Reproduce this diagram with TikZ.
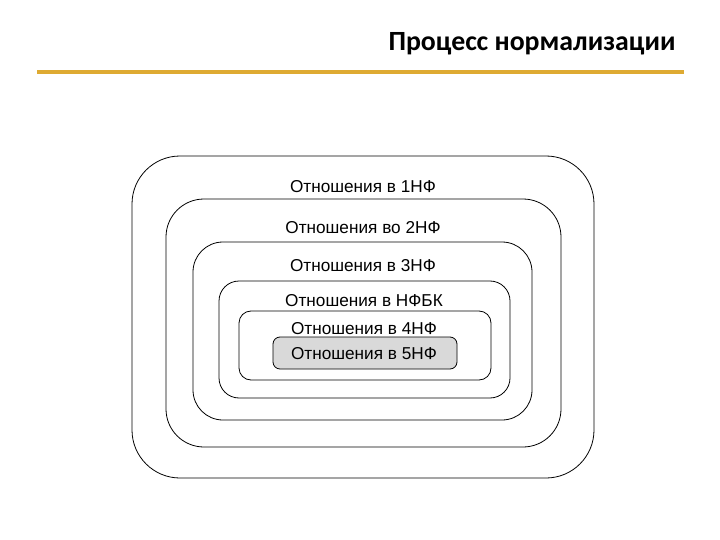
\documentclass[tikz,border=0pt]{standalone}
\usepackage{fontspec}
\setmainfont{Liberation Sans}
\newfontfamily\titlefont{Carlito}
\definecolor{gold}{RGB}{222,170,50}
\definecolor{innerfill}{RGB}{217,217,217}
\begin{document}
\begin{tikzpicture}[x=1pt,y=-1pt,
  level/.style={draw=black,line width=0.8pt},
  lbl/.style={font=\fontsize{17.2}{19}\selectfont,inner sep=0pt,anchor=center}]
\useasboundingbox (0,0) rectangle (720,540);
\fill[white] (0,0) rectangle (720,540);
\node[font=\titlefont\bfseries\fontsize{27.8}{32}\selectfont,anchor=center] (title) at (532,44) {Процесс нормализации};
\draw[gold,line width=4pt] (37,72) coordinate (l1) -- (684,72) coordinate (l2);
\draw[level,rounded corners=48pt] (132,156) rectangle (594,478);
\draw[level,rounded corners=38pt] (166,199) rectangle (561,447);
\draw[level,rounded corners=30pt] (193,242) rectangle (532,420);
\draw[level,rounded corners=20pt] (219,281) rectangle (510,398);
\draw[level,rounded corners=12pt] (239,311) rectangle (491,380);
\draw[level,fill=innerfill,rounded corners=7pt] (273,337) rectangle (457,369);
\node[lbl] (n1) at (363,187) {Отношения в 1НФ};
\node[lbl] (n2) at (363,228) {Отношения во 2НФ};
\node[lbl] (n3) at (363,266) {Отношения в 3НФ};
\node[lbl] (n4) at (364,301) {Отношения в НФБК};
\node[lbl] (n5) at (364,329) {Отношения в 4НФ};
\node[lbl] (n6) at (364,354) {Отношения в 5НФ};
\end{tikzpicture}
\end{document}
